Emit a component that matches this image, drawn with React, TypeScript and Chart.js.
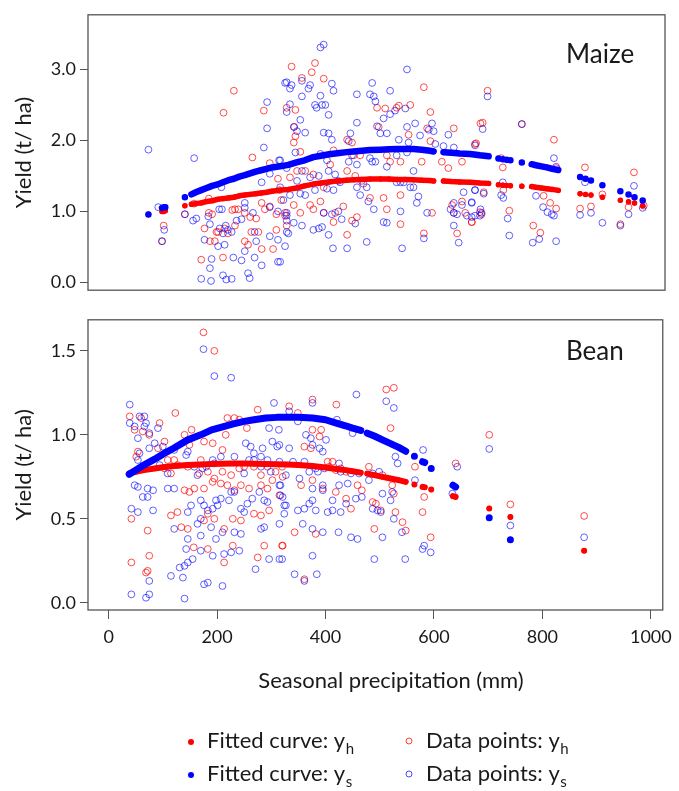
import React, { useEffect, useRef } from "react";
import { Chart, registerables } from "chart.js";

Chart.register(...registerables);

const FONT = "Lato, 'Open Sans', sans-serif";
const TEXT = "#1a1a1a";
const FRAME = "#555555";

// ---- axes ----
const xTicks = [0, 200, 400, 600, 800, 1000];
const xMin = -38;
const xMax = 1022;
const maizeYTicks = [0, 1, 2, 3];
const maizeYMin = -0.11;
const maizeYMax = 3.77;
const beanYTicks = [0, 0.5, 1.0, 1.5];
const beanYMin = -0.043;
const beanYMax = 1.685;

// ---- Maize: data points [precipitation mm, yield t/ha] ----
const maizeYh: [number, number][] = [
  [230, 2.7], [211, 2.39], [285, 2.42], [264, 1.76], [296, 1.68], [311, 1.46], [101, 0.8], [98, 0.58],
  [184, 1.18], [157, 1.11], [140, 0.96], [184, 0.98], [190, 0.96], [227, 1.02], [238, 1.03], [250, 0.98],
  [260, 0.92], [271, 0.9], [287, 1.03], [296, 1.07], [308, 0.96], [324, 0.98], [176, 0.76], [186, 0.58],
  [195, 0.58], [201, 0.71], [213, 0.76], [219, 0.69], [232, 0.8], [250, 0.58], [262, 0.71], [275, 0.71],
  [281, 0.47], [302, 0.47], [308, 0.74], [327, 0.8], [170, 0.32], [210, 0.35], [256, 0.53], [232, 1.03],
  [198, 0.71], [317, 1.16], [281, 1.12], [314, 1.3],
  [336, 3.04], [379, 3.09], [373, 2.96], [395, 2.87], [355, 2.88], [327, 2.46], [343, 2.43], [341, 2.19],
  [343, 2.06], [340, 1.97], [352, 1.84], [333, 1.48], [346, 1.57], [361, 1.57], [376, 1.52], [395, 1.34],
  [407, 1.66], [413, 1.86], [438, 2.01], [447, 1.97], [450, 1.79], [462, 1.79], [438, 1.57], [453, 1.5],
  [468, 1.39], [480, 1.19], [505, 1.19], [511, 1.03], [496, 2.19], [493, 2.46], [508, 2.45], [529, 2.46],
  [533, 2.49], [554, 2.5], [591, 2.4], [579, 2.75], [551, 2.08], [536, 1.7], [517, 1.7], [511, 1.79],
  [585, 2.17], [591, 1.99], [575, 1.7], [612, 1.7], [634, 2.17], [624, 1.61], [649, 1.7], [673, 1.95],
  [683, 2.24], [376, 1.03], [389, 1.14], [370, 1.09], [352, 0.98], [340, 1.09], [324, 0.94], [395, 0.98],
  [416, 0.98], [431, 1.07], [413, 0.85], [438, 0.67], [447, 0.87], [456, 0.92], [536, 1.23], [536, 0.82],
  [579, 0.69], [594, 0.98], [634, 0.98], [640, 0.69], [655, 0.98], [667, 0.85], [631, 1.09], [649, 1.14],
  [696, 2.7], [687, 2.25], [675, 1.96], [721, 1.75], [724, 1.62], [689, 1.27], [725, 1.3], [736, 1.01],
  [682, 0.99], [685, 0.96], [667, 0.85], [759, 2.23], [818, 2.01], [822, 1.63], [799, 1.22], [811, 1.12],
  [822, 1.04], [780, 0.8], [793, 0.7], [875, 1.62], [866, 1.04], [886, 1.07], [907, 1.24], [940, 0.82],
  [955, 1.06], [965, 1.55], [983, 1.08],
];

const maizeYs: [number, number][] = [
  [73, 1.87], [157, 1.75], [285, 1.9], [291, 2.17], [291, 2.54], [324, 2.81], [313, 1.72], [281, 1.41],
  [296, 1.53], [207, 1.34], [91, 1.06], [102, 0.74], [98, 0.58], [140, 0.96], [155, 0.87], [161, 0.9],
  [183, 0.93], [186, 0.82], [203, 1.03], [208, 1.03], [215, 0.8], [219, 0.74], [235, 0.87], [244, 0.89],
  [250, 1.12], [250, 1.05], [265, 0.98], [268, 0.71], [271, 0.58], [296, 1.06], [311, 1.0], [327, 0.94],
  [204, 0.76], [210, 0.69], [226, 0.71], [176, 0.6], [201, 0.51], [213, 0.53], [250, 0.44], [268, 0.35],
  [281, 0.24], [296, 0.65], [311, 0.6], [327, 0.71], [229, 0.35], [244, 0.31], [189, 0.33], [186, 0.2],
  [170, 0.05], [188, 0.02], [210, 0.1], [216, 0.04], [226, 0.05], [256, 0.13], [259, 0.06], [311, 0.29],
  [324, 0.51],
  [389, 3.31], [395, 3.35], [548, 3.0], [327, 2.82], [336, 2.78], [333, 2.73], [355, 2.84], [370, 2.78],
  [367, 2.73], [410, 2.8], [413, 2.7], [389, 2.63], [355, 2.62], [484, 2.81], [480, 2.65], [487, 2.62],
  [490, 2.55], [456, 2.65], [517, 2.7], [333, 2.51], [327, 2.4], [379, 2.5], [392, 2.5], [398, 2.5],
  [404, 2.36], [382, 2.46], [352, 2.29], [340, 2.19], [346, 2.13], [361, 2.11], [395, 2.11], [404, 2.1],
  [410, 2.01], [444, 2.1], [441, 1.99], [456, 2.25], [493, 2.2], [499, 2.1], [511, 2.1], [505, 2.31],
  [517, 2.37], [526, 2.42], [545, 2.45], [548, 2.19], [563, 2.24], [572, 2.07], [588, 2.15], [594, 2.24],
  [597, 2.13], [533, 2.01], [551, 1.97], [600, 1.95], [615, 1.92], [624, 2.08], [634, 1.9], [315, 1.72],
  [327, 1.61], [343, 1.83], [346, 1.43], [355, 1.57], [370, 1.48], [386, 1.5], [389, 1.81], [401, 1.72],
  [404, 1.57], [416, 1.52], [422, 1.43], [441, 1.7], [447, 1.79], [456, 1.66], [480, 1.75], [484, 1.7],
  [490, 1.7], [511, 1.63], [529, 1.79], [548, 1.83], [560, 1.57], [465, 1.43], [474, 1.34], [456, 1.34],
  [462, 1.23], [529, 1.41], [536, 1.41], [542, 1.41], [554, 1.34], [560, 1.34], [315, 1.34], [321, 1.16],
  [333, 1.23], [352, 1.25], [361, 1.23], [379, 1.3], [401, 1.32], [413, 1.3], [425, 1.41], [327, 0.98],
  [327, 0.87], [340, 0.84], [355, 0.8], [330, 0.69], [376, 0.74], [386, 0.76], [395, 0.98], [392, 0.78],
  [410, 0.96], [422, 1.0], [428, 0.89], [453, 0.83], [477, 1.14], [487, 1.03], [505, 0.85], [511, 0.84],
  [536, 1.0], [569, 1.21], [566, 1.12], [585, 0.98], [579, 0.62], [539, 0.48], [474, 0.57], [438, 0.48],
  [412, 0.48], [404, 0.67], [315, 0.29], [634, 1.12], [634, 0.98], [628, 1.03], [640, 0.96], [649, 1.09],
  [658, 0.94], [667, 1.12], [673, 0.94], [683, 1.03], [634, 0.8], [643, 0.56], [652, 1.27], [673, 1.3],
  [696, 2.62], [687, 2.16], [673, 1.93], [724, 1.41], [721, 1.23], [725, 1.19], [689, 1.25], [673, 1.3],
  [667, 1.13], [682, 0.94], [685, 0.98], [667, 0.92], [733, 0.9], [736, 0.66], [759, 2.23], [818, 1.75],
  [822, 1.61], [785, 1.22], [798, 1.06], [806, 0.99], [814, 0.96], [818, 0.94], [779, 0.56], [791, 0.61],
  [822, 0.58], [875, 1.41], [866, 0.95], [886, 0.98], [907, 0.84], [940, 0.8], [955, 0.96], [965, 1.36],
  [981, 1.05],
];

// ---- Maize: fitted values [precipitation, y_h, y_s]; null = break in the curve ----
const maizeFit: ([number, number, number | null] | null)[] = [
  [73, 0.96, 0.955], null,
  [98, 1.0, 1.05], [101, 1.0, 1.06], [104, 1.01, 1.06], null,
  [140, 1.08, 1.2], null,
  [152, 1.1, 1.24], [160, 1.11, 1.27], [170, 1.12, 1.3], [180, 1.14, 1.33], [190, 1.15, 1.36],
  [200, 1.17, 1.38], [210, 1.18, 1.41], [220, 1.19, 1.44], [230, 1.2, 1.46], [240, 1.22, 1.49],
  [250, 1.23, 1.51], [260, 1.24, 1.535], [270, 1.25, 1.56], [280, 1.26, 1.58], [290, 1.27, 1.6],
  [300, 1.285, 1.62], [315, 1.3, 1.635], [330, 1.31, 1.655], [345, 1.33, 1.69], [360, 1.36, 1.72],
  [376, 1.385, 1.765], [390, 1.4, 1.785], [405, 1.415, 1.805], [420, 1.43, 1.82], [437, 1.44, 1.835],
  [450, 1.445, 1.845], [465, 1.45, 1.855], [480, 1.455, 1.865], [499, 1.458, 1.87], [515, 1.455, 1.875],
  [530, 1.45, 1.878], [545, 1.45, 1.88], [560, 1.445, 1.88], [575, 1.44, 1.87], [590, 1.435, 1.855],
  [597, 1.43, 1.845], null,
  [615, 1.43, 1.835], [630, 1.42, 1.825], [645, 1.415, 1.815], [664, 1.41, 1.81], [682, 1.4, 1.79],
  [698, 1.395, 1.776], null,
  [716, 1.377, 1.745], null, [724, 1.37, 1.735], null, [731, 1.365, 1.728], null, [738, 1.363, 1.72], null,
  [759, 1.355, 1.69], null,
  [777, 1.35, 1.665], [785, 1.34, 1.65], [795, 1.33, 1.635], [805, 1.32, 1.62], [815, 1.31, 1.6],
  [826, 1.296, 1.584], null,
  [866, 1.25, 1.485], null, [876, 1.24, 1.46], null, [886, 1.23, 1.435], null,
  [907, 1.2, 1.37], null,
  [940, 1.157, 1.285], null,
  [955, 1.135, 1.238], null,
  [966, 1.117, 1.2], null,
  [981, 1.08, 1.153],
];

// ---- Bean: data points ----
const beanYh: [number, number][] = [
  [175, 1.61], [195, 1.5], [39, 1.11], [48, 1.03], [60, 1.1], [63, 1.02], [75, 1.0], [94, 1.07],
  [91, 0.92], [103, 0.96], [123, 1.13], [140, 1.0], [153, 1.03], [176, 0.96], [192, 0.95], [149, 0.94],
  [210, 0.91], [216, 1.0], [219, 1.1], [232, 1.1], [241, 1.09], [255, 1.04], [275, 1.15], [54, 0.9],
  [51, 0.87], [109, 0.85], [127, 0.82], [121, 0.85], [146, 0.81], [170, 0.85], [167, 0.77], [183, 0.78],
  [195, 0.74], [210, 0.78], [226, 0.76], [241, 0.8], [250, 0.81], [268, 0.81], [281, 0.76], [293, 0.81],
  [308, 0.78], [320, 0.81], [140, 0.67], [149, 0.66], [158, 0.68], [176, 0.68], [192, 0.72], [207, 0.71],
  [219, 0.7], [232, 0.67], [244, 0.7], [259, 0.68], [281, 0.7], [293, 0.68], [302, 0.73], [42, 0.5],
  [72, 0.43], [115, 0.52], [127, 0.54], [134, 0.45], [146, 0.44], [176, 0.49], [183, 0.53], [195, 0.5],
  [213, 0.44], [229, 0.5], [244, 0.49], [268, 0.53], [281, 0.52], [296, 0.55], [42, 0.24], [75, 0.28],
  [72, 0.19], [69, 0.18], [157, 0.33], [183, 0.32], [213, 0.24], [229, 0.34], [275, 0.27], [287, 0.34],
  [320, 0.34], [103, 0.8], [115, 0.77],
  [376, 1.21], [420, 1.18], [512, 1.27], [526, 1.28], [520, 1.04], [333, 1.17], [349, 1.13], [376, 1.03],
  [392, 1.03], [389, 0.99], [361, 0.93], [373, 0.92], [404, 0.84], [413, 0.84], [438, 0.78], [428, 0.8],
  [480, 0.81], [505, 0.76], [523, 0.7], [526, 0.65], [565, 0.81], [582, 0.63], [579, 0.54], [594, 0.39],
  [640, 0.83], [321, 0.75], [355, 0.7], [376, 0.73], [395, 0.68], [419, 0.66], [438, 0.62], [447, 0.56],
  [459, 0.7], [467, 0.67], [487, 0.6], [493, 0.59], [502, 0.55], [529, 0.54], [542, 0.48], [548, 0.43],
  [315, 0.64], [343, 0.42], [382, 0.41], [490, 0.44], [321, 0.34], [361, 0.14], [407, 0.81], [419, 0.79],
  [702, 1.0], [741, 0.586], [877, 0.517],
];

const beanYs: [number, number][] = [
  [175, 1.51], [195, 1.35], [226, 1.34], [39, 1.18], [39, 1.07], [48, 1.05], [57, 1.11], [66, 1.11],
  [69, 1.07], [54, 0.98], [75, 1.01], [91, 1.04], [85, 0.95], [100, 0.93], [57, 0.89], [54, 0.85],
  [75, 0.92], [94, 0.82], [109, 0.77], [146, 0.9], [143, 0.88], [121, 0.91], [158, 0.81], [164, 0.76],
  [173, 0.8], [180, 0.81], [192, 0.85], [195, 0.83], [207, 0.87], [232, 0.87], [253, 0.95], [262, 0.93],
  [259, 0.85], [250, 0.77], [268, 0.89], [281, 0.87], [284, 0.92], [293, 0.85], [302, 0.96], [311, 0.93],
  [314, 1.03], [296, 1.04], [305, 1.19], [268, 0.85], [281, 0.81], [299, 0.78], [317, 0.7], [327, 0.76],
  [48, 0.7], [54, 0.69], [72, 0.68], [82, 0.67], [109, 0.68], [121, 0.68], [63, 0.63], [72, 0.63],
  [170, 0.61], [176, 0.58], [183, 0.55], [192, 0.56], [201, 0.58], [198, 0.61], [207, 0.62], [226, 0.66],
  [222, 0.61], [232, 0.66], [244, 0.56], [250, 0.54], [256, 0.59], [265, 0.62], [278, 0.66], [287, 0.61],
  [293, 0.6], [317, 0.64], [324, 0.58], [146, 0.54], [152, 0.58], [170, 0.5], [164, 0.47], [189, 0.45],
  [198, 0.38], [210, 0.42], [244, 0.41], [281, 0.44], [287, 0.45], [121, 0.44], [146, 0.38], [170, 0.4],
  [232, 0.42], [324, 0.53], [42, 0.56], [54, 0.54], [82, 0.55], [143, 0.32], [155, 0.26], [170, 0.31],
  [192, 0.28], [213, 0.29], [226, 0.3], [241, 0.31], [296, 0.26], [320, 0.26], [271, 0.2], [115, 0.16],
  [131, 0.21], [140, 0.22], [146, 0.24], [137, 0.15], [140, 0.025], [176, 0.11], [183, 0.12], [210, 0.1],
  [42, 0.05], [69, 0.03], [75, 0.05], [75, 0.13], [66, 1.05],
  [457, 1.24], [512, 1.2], [526, 1.16], [376, 1.19], [333, 1.14], [349, 1.08], [364, 1.0], [373, 0.98],
  [376, 0.94], [401, 0.97], [389, 0.92], [395, 0.9], [315, 0.94], [333, 0.92], [450, 1.01], [421, 1.09],
  [315, 0.84], [340, 0.84], [361, 0.84], [370, 0.78], [382, 0.8], [386, 0.78], [398, 0.8], [425, 0.83],
  [428, 0.78], [441, 0.71], [447, 0.77], [462, 0.77], [480, 0.73], [487, 0.77], [499, 0.78], [529, 0.87],
  [533, 0.83], [580, 0.91], [565, 0.73], [315, 0.7], [321, 0.63], [327, 0.58], [352, 0.74], [376, 0.68],
  [395, 0.7], [395, 0.67], [413, 0.61], [425, 0.7], [438, 0.59], [456, 0.62], [467, 0.63], [505, 0.65],
  [523, 0.66], [520, 0.61], [349, 0.55], [361, 0.56], [370, 0.59], [376, 0.61], [382, 0.55], [404, 0.54],
  [413, 0.55], [428, 0.54], [487, 0.56], [496, 0.55], [502, 0.54], [526, 0.5], [634, 0.65], [643, 0.81],
  [315, 0.47], [358, 0.47], [376, 0.44], [395, 0.42], [424, 0.42], [447, 0.39], [459, 0.38], [505, 0.39],
  [541, 0.42], [579, 0.32], [582, 0.34], [594, 0.3], [376, 0.28], [315, 0.26], [490, 0.26], [547, 0.26],
  [343, 0.17], [361, 0.13], [384, 0.17],
  [702, 0.916], [741, 0.46], [877, 0.39],
];

// ---- Bean: fitted values [precipitation, y_h, y_s]; null = break ----
const beanFit: ([number, number, number | null] | null)[] = [
  [38, 0.77, 0.765], [50, 0.78, 0.79], [65, 0.79, 0.82], [85, 0.8, 0.855], [100, 0.807, 0.885],
  [120, 0.815, 0.92], [146, 0.82, 0.97], [170, 0.824, 1.0], [190, 0.827, 1.03], [207, 0.828, 1.045],
  [230, 0.829, 1.065], [250, 0.829, 1.08], [268, 0.828, 1.09], [290, 0.827, 1.1], [310, 0.825, 1.104],
  [330, 0.823, 1.105], [350, 0.82, 1.105], [376, 0.814, 1.1], [400, 0.805, 1.09], [420, 0.797, 1.07],
  [437, 0.79, 1.054], [450, 0.783, 1.04], [465, 0.775, 1.026], null,
  [477, 0.769, 1.01], [490, 0.76, 0.993], [505, 0.75, 0.97], [520, 0.74, 0.948], [535, 0.73, 0.925],
  [548, 0.72, 0.902], null,
  [564, 0.704, 0.873], null,
  [579, 0.69, 0.84], [583, 0.688, 0.835], null,
  [595, 0.674, 0.8], null,
  [635, 0.635, 0.7], [640, 0.63, 0.69], null,
  [702, 0.562, 0.507], null,
  [741, 0.511, 0.376], null,
  [877, 0.31, null],
];

type FitRow = [number, number, number | null] | null;

function fitSeries(rows: FitRow[], col: 1 | 2) {
  const out: { x: number; y: number | null }[] = [];
  let lastX = 0;
  for (const r of rows) {
    if (r === null || r[col] === null) {
      out.push({ x: lastX, y: null });
      continue;
    }
    lastX = r[0];
    out.push({ x: r[0], y: r[col] as number });
  }
  return out;
}

function pts(list: [number, number][]) {
  return list.map(([x, y]) => ({ x, y }));
}

interface PanelOpts {
  yh: [number, number][];
  ys: [number, number][];
  fit: FitRow[];
  yMin: number;
  yMax: number;
  yTicks: number[];
  showX: boolean;
  padding: { top: number; right: number; bottom: number; left: number };
  lineS: number;
  lineH: number;
  label: string;
  labelBaseline: number;
  extra?: (ctx: CanvasRenderingContext2D) => void;
}

function makeConfig(p: PanelOpts): any {
  const frame = {
    id: "frame",
    afterDraw(chart: any) {
      const { ctx, chartArea: a } = chart;
      ctx.save();
      ctx.strokeStyle = FRAME;
      ctx.lineWidth = 1.3;
      ctx.strokeRect(a.left, a.top, a.right - a.left, a.bottom - a.top);
      ctx.fillStyle = TEXT;
      ctx.font = `26px ${FONT}`;
      ctx.textAlign = "left";
      ctx.textBaseline = "alphabetic";
      ctx.fillText(p.label, 566, p.labelBaseline);
      if (p.extra) p.extra(ctx);
      ctx.restore();
    },
  };
  return {
    type: "scatter",
    data: {
      datasets: [
        {
          label: "Fitted curve: ys",
          data: fitSeries(p.fit, 2),
          showLine: true,
          spanGaps: false,
          borderColor: "#0000ff",
          backgroundColor: "#0000ff",
          borderWidth: p.lineS,
          borderCapStyle: "round",
          borderJoinStyle: "round",
          tension: 0,
          pointRadius: 2.6,
          pointBorderWidth: 0,
          pointBackgroundColor: "#0000ff",
          order: 0,
        },
        {
          label: "Fitted curve: yh",
          data: fitSeries(p.fit, 1),
          showLine: true,
          spanGaps: false,
          borderColor: "#ff0000",
          backgroundColor: "#ff0000",
          borderWidth: p.lineH,
          borderCapStyle: "round",
          borderJoinStyle: "round",
          tension: 0,
          pointRadius: 2.6,
          pointBorderWidth: 0,
          pointBackgroundColor: "#ff0000",
          order: 1,
        },
        {
          label: "Data points: ys",
          data: pts(p.ys),
          showLine: false,
          pointRadius: 3.4,
          pointBorderWidth: 1,
          pointBorderColor: "rgba(0,0,255,0.62)",
          pointBackgroundColor: "rgba(0,0,0,0)",
          order: 2,
        },
        {
          label: "Data points: yh",
          data: pts(p.yh),
          showLine: false,
          pointRadius: 3.4,
          pointBorderWidth: 1,
          pointBorderColor: "rgba(255,0,0,0.7)",
          pointBackgroundColor: "rgba(0,0,0,0)",
          order: 3,
        },
      ],
    },
    options: {
      responsive: false,
      animation: false,
      events: [],
      layout: { padding: p.padding },
      plugins: { legend: { display: false }, tooltip: { enabled: false } },
      scales: {
        x: {
          type: "linear",
          min: xMin,
          max: xMax,
          display: p.showX,
          afterBuildTicks: (s: any) => {
            s.ticks = xTicks.map((v) => ({ value: v }));
          },
          afterFit: (s: any) => {
            s.height = p.showX ? 105 : 0;
          },
          grid: { drawOnChartArea: false, drawTicks: true, tickLength: 9, color: FRAME, lineWidth: 1 },
          border: { display: false },
          ticks: {
            font: { family: FONT, size: 18 },
            color: TEXT,
            padding: 7,
            maxRotation: 0,
            autoSkip: false,
            callback: (v: any) => String(v),
          },
        },
        y: {
          type: "linear",
          min: p.yMin,
          max: p.yMax,
          afterBuildTicks: (s: any) => {
            s.ticks = p.yTicks.map((v) => ({ value: v }));
          },
          afterFit: (s: any) => {
            s.width = 88;
          },
          grid: { drawOnChartArea: false, drawTicks: true, tickLength: 8, color: FRAME, lineWidth: 1 },
          border: { display: false },
          ticks: {
            font: { family: FONT, size: 18 },
            color: TEXT,
            padding: 4,
            callback: (v: any) => Number(v).toFixed(1),
          },
          title: {
            display: true,
            text: "Yield (t/ ha)",
            font: { family: FONT, size: 22 },
            color: TEXT,
            padding: { top: 11, bottom: 0 },
          },
        },
      },
    },
    plugins: [frame],
  };
}

function drawBottomExtras(ctx: CanvasRenderingContext2D) {
  // x-axis title
  ctx.fillStyle = TEXT;
  ctx.font = `22px ${FONT}`;
  ctx.textAlign = "center";
  ctx.fillText("Seasonal precipitation (mm)", 391, 383);

  // legend
  ctx.textAlign = "left";
  const rows = [
    { base: 443, color: "#ff0000", ring: "rgba(255,0,0,0.75)" },
    { base: 476, color: "#0000ff", ring: "rgba(0,0,255,0.7)" },
  ];
  const subs = ["h", "s"];
  rows.forEach((r, i) => {
    const cy = r.base - 6;
    ctx.beginPath();
    ctx.fillStyle = r.color;
    ctx.arc(191, cy, 3, 0, Math.PI * 2);
    ctx.fill();
    ctx.beginPath();
    ctx.strokeStyle = r.ring;
    ctx.lineWidth = 1;
    ctx.arc(409, cy - 1, 3, 0, Math.PI * 2);
    ctx.stroke();

    ctx.fillStyle = TEXT;
    const items = [
      { x: 207, t: "Fitted curve: y" },
      { x: 426, t: "Data points: y" },
    ];
    items.forEach((it) => {
      ctx.font = `22px ${FONT}`;
      ctx.fillText(it.t, it.x, r.base);
      const w = ctx.measureText(it.t).width;
      ctx.font = `15px ${FONT}`;
      ctx.fillText(subs[i], it.x + w + 0.5, r.base + 6);
    });
  });
}

export default function App() {
  const topRef = useRef<HTMLCanvasElement>(null);
  const botRef = useRef<HTMLCanvasElement>(null);

  useEffect(() => {
    const top = new Chart(
      topRef.current as HTMLCanvasElement,
      makeConfig({
        yh: maizeYh,
        ys: maizeYs,
        fit: maizeFit,
        yMin: maizeYMin,
        yMax: maizeYMax,
        yTicks: maizeYTicks,
        showX: false,
        padding: { top: 13, right: 14, bottom: 4, left: 0 },
        lineS: 6.5,
        lineH: 5.5,
        label: "Maize",
        labelBaseline: 63,
      })
    );
    const bot = new Chart(
      botRef.current as HTMLCanvasElement,
      makeConfig({
        yh: beanYh,
        ys: beanYs,
        fit: beanFit,
        yMin: beanYMin,
        yMax: beanYMax,
        yTicks: beanYTicks,
        showX: true,
        padding: { top: 12, right: 14, bottom: 76, left: 0 },
        lineS: 7,
        lineH: 6,
        label: "Bean",
        labelBaseline: 55,
        extra: drawBottomExtras,
      })
    );
    return () => {
      top.destroy();
      bot.destroy();
    };
  }, []);

  return (
    <div style={{ position: "absolute", left: 0, top: 0, width: 679, height: 791, background: "#ffffff" }}>
      <canvas ref={topRef} width={679} height={305} style={{ position: "absolute", left: 0, top: 0 }} />
      <canvas ref={botRef} width={679} height={486} style={{ position: "absolute", left: 0, top: 305 }} />
    </div>
  );
}
